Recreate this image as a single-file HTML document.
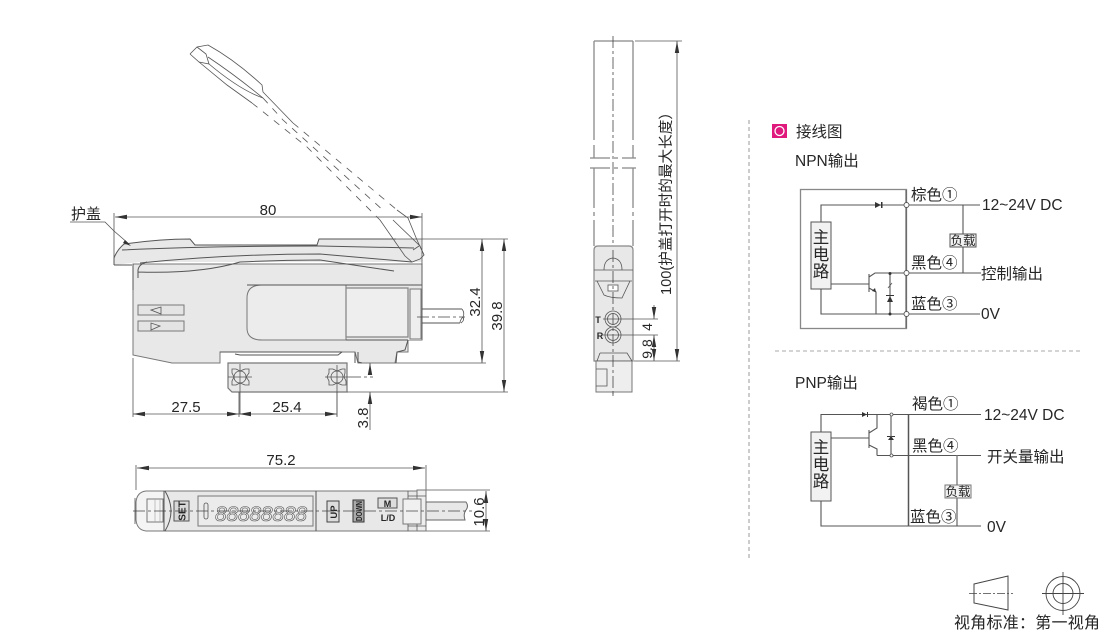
<!DOCTYPE html>
<html><head><meta charset="utf-8"><style>
html,body{margin:0;padding:0;background:#fff}
svg{display:block}
text{font-family:"Liberation Sans","Noto Sans CJK SC",sans-serif;fill:#262626}
.l{fill:none;stroke:#555;stroke-width:1}
.t{fill:none;stroke:#555;stroke-width:.8}
.g{fill:none;stroke:#888;stroke-width:1.3}
.b{fill:#e8e8e8;stroke:#777;stroke-width:1}
.c{fill:none;stroke:#444;stroke-width:.8;stroke-dasharray:12 3 3 3}
.d{fill:none;stroke:#555;stroke-width:.8;stroke-dasharray:7 7}
.a{fill:#333;stroke:none}
.w{fill:none;stroke:#555;stroke-width:1.1}
</style></head><body>
<svg width="1110" height="634" viewBox="0 0 1110 634" xmlns="http://www.w3.org/2000/svg">
<defs>
<marker id="ar" markerWidth="12" markerHeight="6" refX="12" refY="3" orient="auto-start-reverse" markerUnits="userSpaceOnUse"><path d="M0 .8L12 3L0 5.2Z" fill="#333"/></marker>
</defs>

<!-- main body -->
<path class="b" d="M133 264H422V340H408V352H397L395 363H358L355 352H220V363H172L133 355Z"/>
<path d="M228 363H347V392H232L228 388Z" fill="#e8e8e8" stroke="#777" stroke-width="1.2"/>
<path d="M114 265V258Q117 250 124 244Q160 239 190 239L195 245H317L319 239H422V262H140Z" fill="#e8e8e8" stroke="none"/>
<path class="l" d="M114 265L114 258Q117 250 124 244Q160 239 190 239L195 245H317L319 239H396"/>
<path class="l" d="M122 250Q200 246 320 246L414 248"/>
<path class="l" d="M114 265H132M140 263Q230 254 320 254L412 262"/>
<path class="l" d="M147 262Q139 264 138 270V278M138 272Q200 274 240 262Q280 260 320 260L394 271"/>
<path class="l" d="M133 264V290" stroke-width="1.4"/>

<!-- open cover -->
<path class="t" d="M190 54L197 47L208 45Q235 60 262 85L263 92L293 123"/>
<path class="t" d="M190 54L199 62L209 64Q240 90 263 98"/>
<path class="t" d="M197 47L206 54L209 64"/>
<path class="t" d="M208 57Q235 75 263 98"/>
<path class="t" d="M199 62L227 85L252 103"/>
<path class="d" d="M293 123L397 210"/>
<path class="d" d="M263 98L283 120L385 212"/>
<path class="d" d="M252 103L307 147L380 220"/>
<path class="t" d="M397 210L408 218L417 240L424 255L420 259L412 262L405 256L380 220"/>
<path class="t" d="M393 220L420 246L424 255M413 250L419 246"/>

<rect x="247" y="285" width="175" height="55" fill="#e8e8e8" stroke="none"/>
<path d="M346 285H262Q247 285 247 298V328Q247 340 262 340H346Z" fill="#ececec" stroke="#777"/>
<path d="M247 285H422M346 340H408" class="l"/>
<rect x="346" y="288" width="62" height="49" fill="#eee" stroke="#888" stroke-width="1.3"/>
<rect x="410" y="289" width="11" height="50" fill="#eee" stroke="#777"/>
<rect x="138" y="305" width="46" height="10" fill="#e4e4e4" stroke="#777"/>
<rect x="138" y="321" width="46" height="10" fill="#e4e4e4" stroke="#777"/>
<path class="t" d="M151 310L161 307V314Z"/>
<path class="t" d="M151 323V330L160 326Z"/>
<path class="l" d="M220 352H342M235 354L240 355H338L342 352"/>
<path class="l" d="M355 352V363M358 352V362L362 363"/>
<path class="l" d="M408 340L405 350L397 352L396 363"/>
<!-- screws -->
<g class="t"><circle cx="240" cy="377" r="6"/><path d="M232 369H236L240 371L245 369H249V373L246 377L249 381V385H245L240 383L236 385H232V381L234 377L232 373Z"/><path d="M228 377H252M240 364V414"/></g>
<g class="t"><circle cx="337" cy="377" r="6"/><path d="M329 369H333L337 371L342 369H345V373L344 377L346 381V385H342L337 383L333 385H329V381L327 377L329 373Z"/><path d="M325 377H349M337 365V416"/></g>
<path class="c" d="M349 377H373"/>
<!-- cable -->
<path class="l" d="M422 309H462M422 323H460"/>
<path class="t" d="M462 309Q465 313 463 317Q460 320 460 323M463 317Q465 320 461 323"/>
<path class="c" d="M417 317H465"/>

<!-- dimensions -->
<g class="t">
<path d="M114 213V264M422 213V340"/>
<path d="M115 217H422" marker-start="url(#ar)" marker-end="url(#ar)"/>
<path d="M393 239H508M395 363H486M347 392H508"/>
<path d="M482 239V363" marker-start="url(#ar)" marker-end="url(#ar)"/>
<path d="M504 239V392" marker-start="url(#ar)" marker-end="url(#ar)"/>
<path d="M370 375V363" marker-end="url(#ar)"/>
<path d="M370 392V430" marker-start="url(#ar)"/>
<path d="M133 358V417M239 392V417M337 392V417"/>
<path d="M133 414H239" marker-start="url(#ar)" marker-end="url(#ar)"/>
<path d="M239 414H337" marker-start="url(#ar)" marker-end="url(#ar)"/>
<path d="M70 222H105L114 231L129 244"/>
</g>
<path class="a" d="M125 240L131 246L123 243Z"/>
<text x="71" y="219" font-size="15">护盖</text>
<text x="268" y="215" font-size="15" text-anchor="middle">80</text>
<text x="186" y="412" font-size="15" text-anchor="middle">27.5</text>
<text x="287" y="412" font-size="15" text-anchor="middle">25.4</text>
<text transform="translate(480,302) rotate(-90)" font-size="15" text-anchor="middle">32.4</text>
<text transform="translate(502,316) rotate(-90)" font-size="15" text-anchor="middle">39.8</text>
<text transform="translate(368,418) rotate(-90)" font-size="15" text-anchor="middle">3.8</text>

<!-- top view -->
<g class="t">
<path d="M136 465V490M426 465V530"/>
<path d="M137 468H425" marker-start="url(#ar)" marker-end="url(#ar)"/>
<path d="M426 490H490M426 531H490"/>
<path d="M486 491V531" marker-start="url(#ar)" marker-end="url(#ar)"/>
</g>
<text x="281" y="465" font-size="15" text-anchor="middle">75.2</text>
<path d="M164 491H417V531H164Z" fill="#e8e8e8" stroke="#777"/>
<path d="M136 502Q137 492 146 491H164V531H146Q137 530 136 520Z" fill="#f4f4f4" stroke="#777"/>
<path d="M417 490H426V531H417Z" fill="#eee" stroke="#777"/>
<path class="l" d="M164 491V531M165 491Q177 511 165 531"/>
<path class="t" d="M408 491V531M408 496H426M408 526H426M135 498V524"/>
<rect x="147" y="499" width="16" height="23" fill="#f4f4f4" stroke="#777"/>
<path d="M155 499V522M160 499V522" stroke="#aaa" stroke-width=".7"/>
<rect x="174" y="501" width="15" height="20" fill="#d8d8d8" stroke="#555"/>
<text transform="translate(185.500,511) rotate(-90)" font-size="10" font-weight="bold" text-anchor="middle">SET</text>
<rect x="198" y="496" width="115" height="30" fill="#ebebeb" stroke="#777"/>
<rect x="204" y="503" width="4" height="16" rx="2" fill="none" stroke="#555" stroke-width=".8"/>
<text x="215" y="521" font-size="21" font-style="italic" style="fill:none;stroke:#555;stroke-width:.6" textLength="92" lengthAdjust="spacing">88888888</text>
<path class="l" d="M316 491V531"/>
<rect x="327" y="501" width="12" height="21" fill="#ddd" stroke="#444"/>
<text transform="translate(337,512) rotate(-90)" font-size="9.500" font-weight="bold" text-anchor="middle">UP</text>
<rect x="353" y="500" width="11" height="22" fill="#aaa" stroke="#333"/>
<text transform="translate(362,511) rotate(-90)" font-size="8.500" font-weight="bold" text-anchor="middle" textLength="20" lengthAdjust="spacingAndGlyphs">DOWN</text>
<rect x="378" y="498" width="19" height="10" fill="#ddd" stroke="#555"/>
<text x="387.500" y="507" font-size="9" font-weight="bold" text-anchor="middle">M</text>
<text x="388" y="521" font-size="9" font-weight="bold" text-anchor="middle">L/D</text>
<rect x="403" y="499" width="18" height="25" fill="#f0f0f0" stroke="#777"/>
<path d="M426 502H466Q469 506 466 510Q463 514 465 520H426Z" fill="#e8e8e8" stroke="#666"/>
<path class="c" d="M133 511H472" stroke="#555"/>
<text transform="translate(484,512) rotate(-90)" font-size="15" text-anchor="middle">10.6</text>

<!-- side view -->
<g class="g">
<path d="M594 41H633M594 41V128M633 41V128"/>
<path d="M594 128V140M633 128V140M594 145V158M633 145V158" stroke-dasharray="14 3"/>
<path d="M590 158H636M590 168H636" stroke-dasharray="20 4 4 4"/>
<path d="M594 168V246M633 168V246" stroke-dasharray="40 4 4 4"/>
</g>
<path class="c" d="M613 36V396"/>
<path d="M594 250Q594 246 598 246H629Q633 246 633 250V361H594Z" fill="#e8e8e8" stroke="#888" stroke-width="1.2"/>
<path d="M596 361H632V392H596Z" fill="#eee" stroke="#777"/>
<path class="t" d="M594 270H633M595 281H632M597 281L604 295Q610 298 622 298L630 281M604 270Q604 259 613 258Q622 259 622 270"/>
<rect x="608" y="285" width="10" height="6" fill="#fff" stroke="#555" stroke-width=".8"/>
<path class="t" d="M600 353H627L632 361M600 353L597 361"/>
<path class="t" d="M596 369H607V386H596"/>
<path class="c" d="M613 250V396"/>
<g class="t"><circle cx="613" cy="319" r="8"/><circle cx="613" cy="319" r="5.500"/><circle cx="613" cy="335" r="8"/><circle cx="613" cy="335" r="5.500"/>
<path d="M603 319H658M603 335H658"/>
<path d="M654 305V319" marker-end="url(#ar)"/>
<path d="M654 335V361" marker-start="url(#ar)" marker-end="url(#ar)"/>
<path d="M634 361H680M635 41H682"/>
<path d="M677 41V361" marker-start="url(#ar)" marker-end="url(#ar)"/>
</g>
<text x="598" y="323" font-size="9" font-weight="bold" text-anchor="middle">T</text>
<text x="600" y="339" font-size="9" font-weight="bold" text-anchor="middle">R</text>
<text transform="translate(652,327) rotate(-90)" font-size="14" text-anchor="middle">4</text>
<text transform="translate(652,349) rotate(-90)" font-size="14" text-anchor="middle">9.8</text>
<text transform="translate(671,295) rotate(-90)" font-size="14.5" textLength="190" lengthAdjust="spacingAndGlyphs">100(护盖打开时的最大长度）</text>

<!-- right panel -->
<path d="M749 120V558" stroke="#999" stroke-width="1" stroke-dasharray="4 3"/>
<rect x="772" y="124" width="15" height="14" fill="#e0197d"/>
<circle cx="779.500" cy="131" r="4.500" fill="none" stroke="#fff" stroke-width="1.300"/>
<text x="796" y="137" font-size="15.5">接线图</text>
<text x="795" y="166" font-size="15.5">NPN输出</text>

<!-- NPN -->
<rect x="800.500" y="189.500" width="106" height="139" class="g" stroke="#666"/>
<g class="w">
<path d="M821 222V205H980M963 205V273M906 273H981M821 289V314H980M906 190V328"/>
<path d="M831 284H869M869 274V292M869 277L875 273H906M869 288L876 292V314"/>
<path d="M890 273V314"/>
</g>
<path class="a" d="M875 202L881 205L875 208ZM881 202H882.500V208H881Z"/>
<path class="a" d="M887 302H893L890 296ZM886 295H894V296H886Z"/>
<path class="a" d="M876 292L872 291L875 288Z"/>
<circle cx="890" cy="273.500" r="1.500" fill="#333"/><circle cx="890" cy="314" r="1.500" fill="#333"/>
<path class="t" d="M888 288L892 283"/>
<g fill="#fff" stroke="#555" stroke-width=".9"><circle cx="906.500" cy="205" r="2.500"/><circle cx="906.500" cy="273" r="2.500"/><circle cx="906.500" cy="314" r="2.500"/></g>
<rect x="811" y="222" width="20" height="67" fill="#f2f2f2" stroke="#555"/>
<text x="821" y="243" font-size="16.500" text-anchor="middle">主</text>
<text x="821" y="260" font-size="16.500" text-anchor="middle">电</text>
<text x="821" y="277" font-size="16.500" text-anchor="middle">路</text>
<rect x="950" y="234" width="26" height="13" fill="#f2f2f2" stroke="#555"/>
<text x="963" y="245" font-size="12.500" text-anchor="middle">负载</text>
<text x="911" y="200" font-size="15.500">棕色①</text>
<text x="911" y="268" font-size="15.500">黑色④</text>
<text x="911" y="309" font-size="15.500">蓝色③</text>
<text x="982" y="210" font-size="15.500">12~24V DC</text>
<text x="981" y="279" font-size="15.500">控制输出</text>
<text x="981" y="319" font-size="15.500">0V</text>

<path d="M775 351H1080" stroke="#aaa" stroke-width="1" stroke-dasharray="4 3"/>

<!-- PNP -->
<text x="795" y="388" font-size="15.500">PNP输出</text>
<g class="w">
<path d="M821 432V414.500H981M821 501V526H981M877 455.500H981M957 498V526"/>
<path d="M831 438H869M869 430V448M869 433L877 428V414.500M869 445L877 449V455.500"/>
<path d="M891 414.500V455.500"/>
</g>
<path d="M908.500 414V526" stroke="#555" stroke-width="1.500"/>
<path d="M957 455.500V486" stroke="#888" stroke-width="1.500"/>
<path class="a" d="M862 412L867 414.500L862 417ZM867 412H868V417H867Z"/>
<path class="a" d="M888 440H894L891 436ZM887 436H895V437H887Z"/>
<g fill="#fff" stroke="#555" stroke-width=".8"><circle cx="891.500" cy="414.500" r="1.500"/><circle cx="891.500" cy="455.500" r="1.500"/></g>
<rect x="811" y="432" width="20" height="69" fill="#f2f2f2" stroke="#555"/>
<text x="821" y="453" font-size="16.500" text-anchor="middle">主</text>
<text x="821" y="470" font-size="16.500" text-anchor="middle">电</text>
<text x="821" y="487" font-size="16.500" text-anchor="middle">路</text>
<rect x="945" y="485" width="26" height="13" fill="#f2f2f2" stroke="#777"/>
<text x="958" y="496" font-size="12.500" text-anchor="middle">负载</text>
<text x="912" y="409" font-size="15.500">褐色①</text>
<text x="912" y="451" font-size="15.500">黑色④</text>
<text x="910" y="522" font-size="15.500">蓝色③</text>
<text x="984" y="420" font-size="15.500">12~24V DC</text>
<text x="987" y="462" font-size="15.500">开关量输出</text>
<text x="987" y="532" font-size="15.500">0V</text>

<!-- projection symbol -->
<path d="M974 584L1008 576V610L974 603Z" fill="none" stroke="#444" stroke-width="1"/>
<path d="M969 593.500H1013" stroke="#444" stroke-width=".8" stroke-dasharray="8 2 2 2"/>
<g fill="none" stroke="#444" stroke-width=".9">
<circle cx="1063" cy="593.500" r="17"/><circle cx="1063" cy="593.500" r="10"/>
<path d="M1042 593.500H1084M1063 572V615"/></g>
<text x="954" y="628" font-size="16" textLength="146" lengthAdjust="spacing">视角标准：第一视角</text>
</svg>
</body></html>
